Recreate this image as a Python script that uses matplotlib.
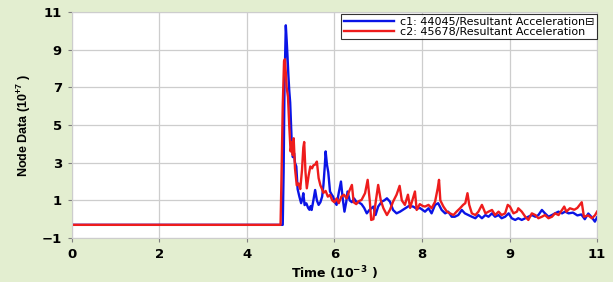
import matplotlib
matplotlib.use("Agg")
import matplotlib.pyplot as plt

# x positions are on the plot's own linear scale (0..12); tick labels are shown as in the source
tick_pos = [0, 2, 4, 6, 8, 10, 12]
tick_labels = ["0", "2", "4", "6", "8", "9", "11"]
y_ticks = [-1, 1, 3, 5, 7, 9, 11]

c1_label = "c1: 44045/Resultant Acceleration\u229f"
c2_label = "c2: 45678/Resultant Acceleration"

c1_t = [0, 4.82, 4.84, 4.86, 4.89, 4.91, 4.93, 4.95, 4.97, 4.99, 5.02, 5.05, 5.08, 5.10,
        5.13, 5.16, 5.20, 5.24, 5.27, 5.29, 5.32, 5.36, 5.40, 5.43, 5.46, 5.48, 5.52, 5.56,
        5.60, 5.64, 5.68, 5.72, 5.75, 5.78, 5.80, 5.83, 5.86, 5.90, 5.94, 5.97, 6.01, 6.05,
        6.10, 6.15, 6.19, 6.23, 6.27, 6.30, 6.35, 6.40, 6.45, 6.50, 6.55, 6.62, 6.68, 6.74,
        6.80, 6.89, 6.94, 7.00, 7.08, 7.14, 7.20, 7.27, 7.34, 7.42, 7.50, 7.60, 7.70, 7.80,
        7.88, 7.95, 8.07, 8.15, 8.22, 8.30, 8.37, 8.45, 8.53, 8.60, 8.68, 8.75, 8.83, 8.91,
        8.98, 9.06, 9.14, 9.22, 9.29, 9.37, 9.45, 9.52, 9.60, 9.67, 9.75, 9.82, 9.90, 9.98,
        10.05, 10.13, 10.20, 10.28, 10.36, 10.43, 10.51, 10.59, 10.66, 10.74, 10.81, 10.89,
        10.97, 11.04, 11.12, 11.20, 11.27, 11.35, 11.45, 11.55, 11.64, 11.72, 11.80, 11.88,
        11.95, 12.0]
c1_val = [-0.3, -0.3, 2.5, 7.0, 10.3, 9.5, 8.6, 7.6, 6.8, 6.2, 4.4, 3.3, 3.5, 3.0,
          2.8, 1.6, 1.2, 0.85, 1.1, 1.38, 0.75, 0.84, 0.6, 0.5, 0.7, 0.49, 1.0, 1.55,
          1.0, 0.76, 0.9, 1.2, 1.82, 2.8, 3.6, 2.9, 2.5, 1.47, 1.3, 1.2, 0.9, 0.76,
          1.4, 2.0, 1.1, 0.4, 0.9, 1.47, 1.0, 0.9, 1.1, 0.93, 0.9, 0.8, 0.6, 0.31,
          0.49, 0.67, 0.22, 0.67, 0.93, 1.0, 1.11, 0.93, 0.49, 0.31, 0.4, 0.55, 0.7, 0.67,
          0.55, 0.6, 0.40, 0.58, 0.31, 0.76, 0.85, 0.49, 0.31, 0.4, 0.13, 0.13, 0.22, 0.49,
          0.31, 0.22, 0.13, 0.05, 0.22, 0.05, 0.22, 0.13, 0.31, 0.13, 0.22, 0.05, 0.13, 0.31,
          0.05, -0.04, 0.05, -0.04, 0.05, 0.13, 0.22, 0.13, 0.22, 0.49, 0.31, 0.13,
          0.22, 0.31, 0.40, 0.31, 0.40, 0.31, 0.35, 0.2, 0.25, 0.0, 0.3, 0.1,
          -0.13, 0.1]

c2_t = [0, 4.77, 4.79, 4.82, 4.85, 4.87, 4.89, 4.91, 4.94, 4.97, 5.00, 5.03, 5.05, 5.07,
        5.10, 5.14, 5.18, 5.22, 5.26, 5.29, 5.31, 5.34, 5.37, 5.41, 5.45, 5.49, 5.52, 5.56,
        5.60, 5.64, 5.68, 5.71, 5.75, 5.80, 5.85, 5.90, 5.95, 6.00, 6.05, 6.10, 6.16, 6.22,
        6.28, 6.34, 6.40, 6.44, 6.50, 6.55, 6.62, 6.70, 6.76, 6.81, 6.84, 6.89, 6.95, 7.00,
        7.06, 7.12, 7.20, 7.27, 7.34, 7.42, 7.49, 7.54, 7.61, 7.68, 7.73, 7.78, 7.84, 7.88,
        7.95, 8.02, 8.07, 8.15, 8.22, 8.30, 8.36, 8.39, 8.42, 8.49, 8.57, 8.64, 8.72, 8.79,
        8.87, 8.94, 8.99, 9.04, 9.08, 9.14, 9.22, 9.29, 9.37, 9.45, 9.52, 9.60, 9.67, 9.75,
        9.82, 9.90, 9.96, 10.01, 10.09, 10.17, 10.20, 10.28, 10.36, 10.43, 10.51, 10.59,
        10.66, 10.74, 10.81, 10.89, 10.97, 11.04, 11.12, 11.20, 11.25, 11.30, 11.38, 11.48,
        11.55, 11.65, 11.70, 11.80, 11.88, 11.95, 12.0]
c2_val = [-0.3, -0.3, 2.0, 6.0, 8.4, 8.5, 7.8, 7.0, 6.5, 4.9, 3.6, 4.1, 3.4, 4.3,
          2.7, 1.8, 1.9, 1.6, 2.6, 3.8, 4.1, 2.5, 1.64, 2.3, 2.8, 2.7, 2.86, 2.9,
          3.06, 2.18, 1.8, 1.64, 1.4, 1.5, 1.2, 1.29, 1.0, 0.9, 1.1, 0.85, 1.2, 1.3,
          1.1, 1.5, 1.82, 0.9, 0.8, 0.95, 1.02, 1.38, 2.09, 0.93, -0.04, 0.0, 1.02, 1.82,
          1.0, 0.58, 0.22, 0.5, 0.93, 1.3, 1.77, 1.0, 0.76, 1.3, 0.6, 1.0, 1.47, 0.49,
          0.8, 0.7, 0.67, 0.76, 0.58, 0.93, 1.64, 2.09, 1.0, 0.67, 0.40, 0.31, 0.22, 0.40,
          0.58, 0.76, 0.85, 1.38, 0.76, 0.31, 0.22, 0.40, 0.76, 0.31, 0.40, 0.49, 0.22, 0.40,
          0.22, 0.31, 0.76, 0.67, 0.31, 0.40, 0.58, 0.40, 0.13, -0.04, 0.31, 0.22,
          0.05, 0.13, 0.22, 0.05, 0.13, 0.31, 0.22, 0.49, 0.67, 0.40, 0.58, 0.5,
          0.6, 0.9, 0.13, 0.2, 0.05, 0.2, 0.4]

bg_green = "#e3eed0"
grid_grey = "#cdcdcd"

fig = plt.figure(figsize=(6.13, 2.82), dpi=100, facecolor=bg_green)
ax = fig.add_axes([0.117, 0.156, 0.857, 0.801])
ax.set_facecolor("white")

ax.plot(c1_t, c1_val, color="#0a14e6", lw=1.7, label=c1_label)
ax.plot(c2_t, c2_val, color="#ee1c1c", lw=1.7, label=c2_label)

ax.set_xlim(0, 12)
ax.set_ylim(-1, 11)
ax.set_xticks(tick_pos)
ax.set_xticklabels(tick_labels)
ax.set_yticks(y_ticks)
ax.grid(True, color=grid_grey, lw=0.9)
ax.set_axisbelow(True)

for s in ax.spines.values():
    s.set_color(grid_grey)
ax.tick_params(length=3, color="#808080", labelsize=9.5, pad=4)
for lab in ax.get_xticklabels() + ax.get_yticklabels():
    lab.set_fontweight("bold")

ax.set_xlabel(r"Time (10$^{\mathregular{-3}}$ )", fontsize=9, fontweight="bold", labelpad=3)
ax.set_ylabel(r"Node Data (10$^{\mathregular{+7}}$ )", family="Liberation Sans",
              fontsize=9, fontweight="bold", labelpad=6)

leg = ax.legend(loc="upper right", bbox_to_anchor=(1.0, 0.99), borderaxespad=0,
                fontsize=8, handlelength=4.5, frameon=True, fancybox=False,
                borderpad=0.2, labelspacing=0.05, handletextpad=0.6)
leg.get_frame().set_edgecolor("black")
leg.get_frame().set_linewidth(0.8)

fig.savefig("out.png", dpi=100, facecolor=bg_green)
